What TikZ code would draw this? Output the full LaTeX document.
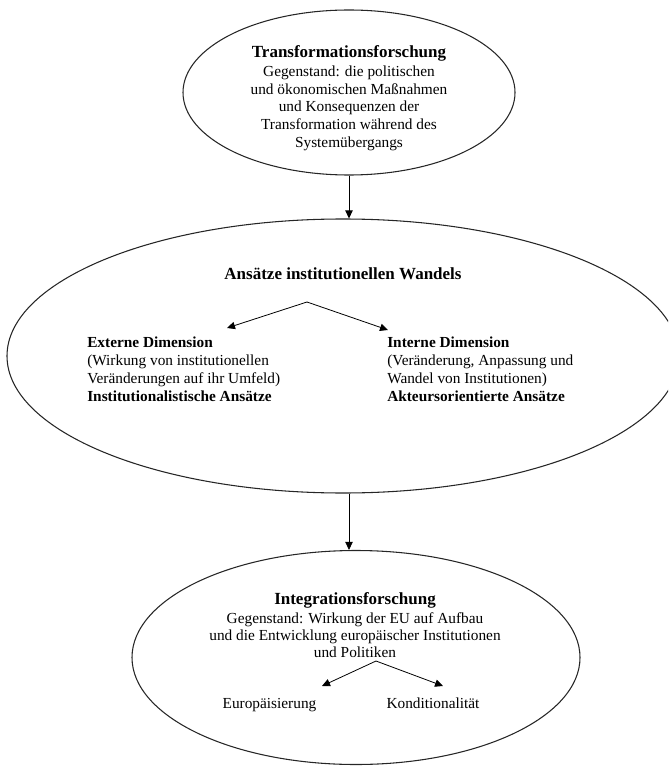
\documentclass[tikz,border=0pt]{standalone}
\usepackage{fontspec}
\setmainfont{Liberation Serif}
\usetikzlibrary{shapes.geometric,arrows.meta}
\tikzset{
  oval/.style={draw=black!85, line width=0.8pt, ellipse, inner sep=0pt},
  ttl/.style={inner sep=0pt, anchor=base, font=\fontsize{12.75pt}{15pt}\selectfont\bfseries},
  txt/.style={inner sep=0pt, anchor=base, font=\fontsize{11.5pt}{13.5pt}\selectfont},
  txtb/.style={txt, font=\fontsize{11.5pt}{13.5pt}\selectfont\bfseries},
  lft/.style={anchor=base west},
  arr/.style={draw=black, line width=0.6pt, -{Triangle[length=6pt,width=5.5pt]}},
}
\begin{document}
\begin{tikzpicture}[x=0.75pt,y=-0.75pt]
\useasboundingbox (0,0) rectangle (668,766);
\clip (0,0) rectangle (668,766);

% ellipses
\node[oval, minimum width=249pt, minimum height=123.75pt] (top) at (349,92.5) {};
\node[oval, minimum width=504pt, minimum height=205.5pt] (mid) at (343,356) {};
\node[oval, minimum width=336pt, minimum height=160.5pt] (bot) at (356,657.5) {};

% top texts
\node[ttl] (t0) at (349,57.6) {Transformationsforschung};
\node[txt] (t1) at (349,76.5) {Gegenstand: die politischen};
\node[txt] (t2) at (349,94.2) {und ökonomischen Maßnahmen};
\node[txt] (t3) at (349,111.9) {und Konsequenzen der};
\node[txt] (t4) at (349,129.6) {Transformation während des};
\node[txt] (t5) at (349,147.3) {Systemübergangs};

% middle texts
\node[ttl] (m0) at (343,279) {Ansätze institutionellen Wandels};
\node[txtb,lft] (l1) at (87,347.5) {Externe Dimension};
\node[txt,lft] (l2) at (87,365.5) {(Wirkung von institutionellen};
\node[txt,lft] (l3) at (87,383.5) {Veränderungen auf ihr Umfeld)};
\node[txtb,lft] (l4) at (87,401.5) {Institutionalistische Ansätze};
\node[txtb,lft] (r1) at (387,347.5) {Interne Dimension};
\node[txt,lft] (r2) at (387,365.5) {(Veränderung, Anpassung und};
\node[txt,lft] (r3) at (387,383.5) {Wandel von Institutionen)};
\node[txtb,lft] (r4) at (387,401.5) {Akteursorientierte Ansätze};

% bottom texts
\node[ttl] (b0) at (355,604) {Integrationsforschung};
\node[txt] (b1) at (355,623.7) {Gegenstand: Wirkung der EU auf Aufbau};
\node[txt] (b2) at (355,640.4) {und die Entwicklung europäischer Institutionen};
\node[txt] (b3) at (355,657) {und Politiken};
\node[txt] (b4) at (269.5,708) {Europäisierung};
\node[txt] (b5) at (433,708) {Konditionalität};

% fork coordinates
\coordinate (f1) at (307,302);
\coordinate (f1l) at (227,328);
\coordinate (f1r) at (388,330);
\coordinate (f2) at (376,661);
\coordinate (f2l) at (322,686);
\coordinate (f2r) at (443,686);

% connectors
\draw[arr] (top.south) -- (top.south |- mid.north);
\draw[arr] (mid.south -| top.south) -- (top.south |- bot.north);
\draw[arr] (f1) -- (f1l);
\draw[arr] (f1) -- (f1r);
\draw[arr] (f2) -- (f2l);
\draw[arr] (f2) -- (f2r);
\end{tikzpicture}
\end{document}
